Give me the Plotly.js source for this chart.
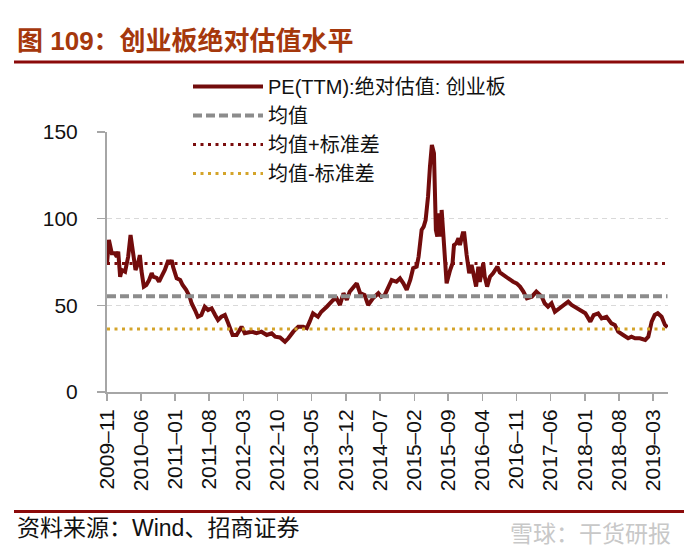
<!DOCTYPE html>
<html>
<head>
<meta charset="utf-8">
<script src="https://cdn.plot.ly/plotly-3.0.1.min.js"></script>
<style>
  body { margin: 0; background: #fff; }
  #chart { width: 694px; height: 554px; }
</style>
</head>
<body>
<div id="chart"></div>
<script>
// PE(TTM) of ChiNext
var dates = [
  '2009-11-01','2009-11-13','2009-12-01','2009-12-19','2010-01-01','2010-01-10','2010-01-22','2010-02-01',
  '2010-02-22','2010-03-13','2010-03-28','2010-04-13','2010-04-28','2010-05-13','2010-05-25','2010-06-04',
  '2010-06-19','2010-07-04','2010-07-22','2010-08-07','2010-08-16','2010-09-07','2010-09-22','2010-10-07',
  '2010-10-28','2010-11-19','2010-11-28','2010-12-10','2010-12-19','2011-01-10','2011-02-01','2011-02-16',
  '2011-03-10','2011-04-01','2011-04-13','2011-05-04','2011-05-22','2011-06-13','2011-07-04','2011-07-25',
  '2011-08-16','2011-09-07','2011-09-25','2011-10-16','2011-11-07','2011-11-28','2011-12-25','2012-01-19',
  '2012-02-19','2012-03-10','2012-04-22','2012-05-22','2012-06-22','2012-07-25','2012-08-25','2012-09-16',
  '2012-10-16','2012-11-16','2012-12-07','2013-01-07','2013-02-07','2013-03-10','2013-04-01','2013-04-19',
  '2013-05-10','2013-06-10','2013-07-01','2013-08-04','2013-08-22','2013-09-13','2013-10-04','2013-10-25',
  '2013-11-16','2013-12-07','2013-12-25','2014-01-16','2014-02-07','2014-02-28','2014-03-28','2014-04-19',
  '2014-05-19','2014-06-22','2014-07-10','2014-08-01','2014-08-22','2014-09-13','2014-10-13','2014-11-04',
  '2014-11-25','2014-12-16','2015-01-07','2015-01-25','2015-02-16','2015-02-28','2015-03-19','2015-04-01',
  '2015-04-13','2015-04-28','2015-05-10','2015-05-22','2015-06-04','2015-06-10','2015-06-16','2015-06-25',
  '2015-07-07','2015-07-16','2015-07-22','2015-08-01','2015-08-10','2015-08-22','2015-09-13','2015-09-28',
  '2015-10-07','2015-10-22','2015-11-04','2015-11-13','2015-12-01','2015-12-10','2015-12-25','2016-01-10',
  '2016-01-25','2016-02-07','2016-02-22','2016-03-07','2016-03-16','2016-04-07','2016-04-16','2016-05-01',
  '2016-05-19','2016-06-07','2016-07-04','2016-07-19','2016-08-10','2016-09-01','2016-09-22','2016-10-10',
  '2016-11-01','2016-11-22','2016-12-13','2017-01-04','2017-02-04','2017-03-04','2017-04-07','2017-04-25',
  '2017-05-16','2017-06-07','2017-06-28','2017-07-28','2017-08-19','2017-09-19','2017-10-10','2017-11-13',
  '2017-12-13','2018-01-04','2018-02-04','2018-02-25','2018-03-25','2018-04-16','2018-05-16','2018-06-16',
  '2018-07-07','2018-07-28','2018-08-28','2018-09-28','2018-10-19','2018-11-10','2018-12-10','2019-01-13',
  '2019-02-01','2019-02-22','2019-03-13','2019-04-01','2019-04-25','2019-05-16','2019-06-01'
];
var pe = [
  74, 87.7, 80, 80, 78, 81, 66.5, 70.4,
  69.4, 78, 90.6, 78, 70.4, 74, 79, 70,
  60.8, 61.7, 64.6, 68.6, 66.5, 65.8, 63.6, 66.5,
  70.4, 76, 74, 76, 72, 65.6, 64.6, 61.7,
  58.9, 55, 51.2, 47.3, 43.4, 44.4, 49.2, 47.3,
  48.3, 44.4, 41.5, 43.4, 44.4, 39.6, 32.9, 32.9,
  37.7, 33.9, 34.8, 33.9, 34.8, 32.9, 33.9, 31.9,
  31.5, 29, 31, 34.8, 37.7, 37.7, 36.8, 40.6,
  45.4, 43.4, 46.3, 49.2, 51.2, 53.1, 54, 50.2,
  57, 53.1, 57.9, 60.8, 62.7, 57, 56, 50.2,
  54, 57, 55, 56, 60.8, 64.6, 63.6, 65.6,
  62.7, 58.9, 64.6, 71.4, 72.3, 78, 93.5, 95.4,
  99.2, 112.7, 130, 142.5, 137.7, 122.3, 93.5, 89.6,
  103, 89.6, 105, 91.6, 74.3, 62.7, 70.4, 74.3,
  84.8, 85.8, 88.7, 84.8, 91.6, 91.6, 79, 68.5,
  73.3, 66.5, 60.8, 72.3, 63.6, 74.3, 66.5, 60.8,
  66.5, 68.5, 72.3, 69, 67.5, 65.6, 64.6, 63.6,
  62.7, 60.8, 57.9, 54, 55, 57.9, 55, 51.2,
  49.2, 51.2, 46.3, 48.3, 50.2, 52.1, 50.2, 48.3,
  46.3, 45.4, 40.6, 44.4, 45.4, 42.5, 43.4, 39.6,
  38.7, 34.8, 32.9, 31, 31.9, 31, 31, 30,
  31.9, 40.6, 44.4, 45.4, 43.4, 38.7, 37.3
];

// reference levels
var refNames = ['均值', '均值+标准差', '均值-标准差'];
var refValues = [55.3, 74.2, 36.3];
var refSpan = ['2009-11-01', '2019-06-01'];

var yTicks = [0, 50, 100, 150];

var traces = [{
  x: dates, y: pe, type: 'scatter', mode: 'lines',
  name: 'PE(TTM):绝对估值: 创业板',
  line: { color: '#720C0C', width: 4 }
}];

var refStyles = [
  { color: '#8C8C8C', width: 4, dash: '9px,4px' },
  { color: '#7A0C0C', width: 3, dash: '3px,4.5px' },
  { color: '#D4A42A', width: 3, dash: '3px,4.5px' }
];
for (var i = 0; i < refNames.length; i++) {
  traces.push({
    x: refSpan, y: [refValues[i], refValues[i]],
    type: 'scatter', mode: 'lines', name: refNames[i],
    line: refStyles[i]
  });
}

// plot area is 107..668 x 132..392 px
var layout = {
  width: 694, height: 554,
  margin: { l: 107, r: 26, t: 132, b: 162 },
  paper_bgcolor: '#fff', plot_bgcolor: '#fff',
  font: { family: 'Liberation Sans, Arial, Noto Sans CJK SC', color: '#111' },
  title: {
    text: '<b>图 109：创业板绝对估值水平</b>',
    xref: 'container', yref: 'container',
    x: 17 / 694, xanchor: 'left', y: 1 - 41 / 554, yanchor: 'middle',
    font: { size: 26, color: '#A5380C', family: 'Liberation Sans, Noto Sans CJK SC' }
  },
  showlegend: true,
  legend: {
    x: (188 - 107) / 561, y: (392 - 67) / 260, xanchor: 'left', yanchor: 'top',
    bgcolor: 'rgba(0,0,0,0)', itemwidth: 70,
    font: { size: 20, color: '#111', family: 'Liberation Sans, Noto Sans CJK SC' }
  },
  xaxis: {
    type: 'date',
    range: ['2009-11-01', '2019-06-04'],
    tick0: '2009-11-01', dtick: 'M7', tickformat: '%Y–%m',
    tickangle: -90,
    ticks: 'outside', ticklen: 7, tickcolor: '#A6A6A6', tickwidth: 1.5,
    showline: true, linecolor: '#A6A6A6', linewidth: 2,
    showgrid: false, zeroline: false,
    tickfont: { size: 21, color: '#111' }
  },
  yaxis: {
    range: [0, 150], tickvals: yTicks,
    ticks: 'outside', ticklen: 8, tickcolor: '#A6A6A6', tickwidth: 1.5,
    ticklabelstandoff: 15,
    showline: true, linecolor: '#A6A6A6', linewidth: 2,
    showgrid: true, gridcolor: '#D9D9D9', gridwidth: 1, griddash: '5px,4px',
    zeroline: false,
    tickfont: { size: 21, color: '#111' }
  },
  shapes: [
    { type: 'line', xref: 'paper', yref: 'paper',
      x0: (14 - 107) / 561, x1: (684 - 107) / 561,
      y0: (392 - 62) / 260, y1: (392 - 62) / 260,
      line: { color: '#8B0A0A', width: 3 } },
    { type: 'line', xref: 'paper', yref: 'paper',
      x0: (14 - 107) / 561, x1: (684 - 107) / 561,
      y0: (392 - 511.5) / 260, y1: (392 - 511.5) / 260,
      line: { color: '#8B0A0A', width: 3 } }
  ],
  annotations: [
    { text: '资料来源：Wind、招商证券', xref: 'paper', yref: 'paper',
      x: (15 - 107) / 561, y: (392 - 528) / 260, xanchor: 'left', yanchor: 'middle',
      showarrow: false, font: { size: 23, color: '#111' } },
    { text: '雪球：干货研报', xref: 'paper', yref: 'paper',
      x: (673 - 107) / 561, y: (392 - 532) / 260, xanchor: 'right', yanchor: 'middle',
      showarrow: false, font: { size: 23, color: '#C8C8C8', family: 'Noto Sans CJK SC' } }
  ]
};

Plotly.newPlot('chart', traces, layout, { displayModeBar: false, staticPlot: true });
</script>
</body>
</html>
